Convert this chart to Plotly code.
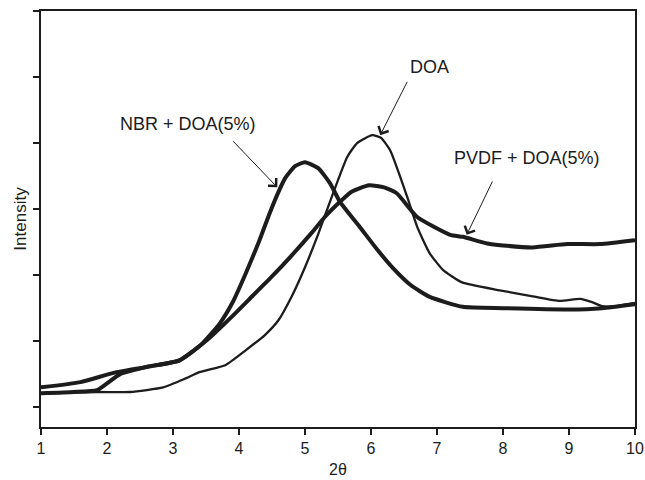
import plotly.graph_objects as go

# Data (intensity in arbitrary units)
nbr_x = [1.0, 1.6, 2.1, 2.6, 3.1, 3.45, 3.71, 3.91, 4.1, 4.3, 4.45, 4.58, 4.7, 4.85, 5.0, 5.2, 5.38,
         5.53, 5.83, 6.1, 6.33, 6.6, 6.89, 7.39, 8.0, 9.0, 9.5, 10.0]
nbr_y = [0.30, 0.38, 0.52, 0.61, 0.71, 0.97, 1.27, 1.60, 2.02, 2.50, 2.90, 3.22, 3.47, 3.65, 3.71, 3.62, 3.39,
         3.11, 2.73, 2.38, 2.11, 1.85, 1.67, 1.52, 1.50, 1.48, 1.50, 1.56]

pvdf_x = [1.0, 1.5, 1.85, 2.0, 2.2, 2.6, 3.1, 3.52, 3.9, 4.2, 4.5, 4.8, 5.1, 5.3, 5.53, 5.7,
          5.97, 6.2, 6.39, 6.7, 7.2, 7.39, 7.76, 8.0, 8.45, 8.97, 9.47, 10.0]
pvdf_y = [0.21, 0.23, 0.26, 0.36, 0.50, 0.61, 0.71, 1.02, 1.38, 1.68, 1.98, 2.30, 2.64, 2.88, 3.11, 3.26,
          3.36, 3.33, 3.24, 2.88, 2.61, 2.58, 2.48, 2.45, 2.42, 2.47, 2.47, 2.53]

doa_x = [1.0, 1.85, 2.35, 2.85, 3.2, 3.4, 3.8, 4.1, 4.4, 4.6, 4.8, 5.0, 5.2, 5.33, 5.64, 5.79,
         6.02, 6.15, 6.29, 6.55, 6.7, 6.89, 7.09, 7.38, 7.95, 8.45, 8.86, 9.17, 9.35, 9.5, 9.7, 10.0]
doa_y = [0.21, 0.23, 0.23, 0.30, 0.44, 0.53, 0.64, 0.86, 1.10, 1.32, 1.68, 2.12, 2.62, 2.98, 3.79, 4.00,
         4.12, 4.08, 3.89, 3.18, 2.73, 2.33, 2.08, 1.89, 1.77, 1.68, 1.61, 1.64, 1.59, 1.53, 1.53, 1.58]

x_ticks = [1, 2, 3, 4, 5, 6, 7, 8, 9, 10]
y_ticks = [0, 1, 2, 3, 4, 5, 6]

ink = "#1c1c1c"
font = "Liberation Sans, Arial, sans-serif"

fig = go.Figure()
fig.add_trace(go.Scatter(x=nbr_x, y=nbr_y, mode="lines", name="NBR + DOA(5%)",
                         line=dict(color=ink, width=4, shape="spline", smoothing=0.5)))
fig.add_trace(go.Scatter(x=pvdf_x, y=pvdf_y, mode="lines", name="PVDF + DOA(5%)",
                         line=dict(color=ink, width=4, shape="spline", smoothing=0.5)))
fig.add_trace(go.Scatter(x=doa_x, y=doa_y, mode="lines", name="DOA",
                         line=dict(color=ink, width=2.3, shape="spline", smoothing=0.5)))

labels = [
    # text, text x, text y, arrow tail x, y, arrow head x, y
    ("NBR + DOA(5%)", 3.23, 4.29, 3.89, 4.05, 4.58, 3.33),
    ("DOA", 6.88, 5.15, 6.56, 4.95, 6.14, 4.12),
    ("PVDF + DOA(5%)", 8.36, 3.77, 7.85, 3.44, 7.45, 2.61),
]
for text, tx, ty, ax, ay, hx, hy in labels:
    fig.add_annotation(x=tx, y=ty, text=text, showarrow=False,
                       font=dict(family=font, size=18, color=ink))
    fig.add_annotation(x=hx, y=hy, ax=ax, ay=ay, axref="x", ayref="y", text="",
                       showarrow=True, arrowhead=4, arrowsize=2.2, arrowwidth=1,
                       arrowcolor=ink)

fig.update_layout(
    width=645, height=480,
    margin=dict(l=41, r=10, t=11, b=53),
    paper_bgcolor="white", plot_bgcolor="white",
    showlegend=False,
    font=dict(family=font, color=ink, size=16),
)
fig.update_xaxes(range=[1, 10], tickvals=x_ticks, ticktext=[str(t) for t in x_ticks],
                 ticks="outside", ticklen=6, tickwidth=1.5, tickcolor=ink,
                 showline=True, linecolor=ink, linewidth=1.5, mirror=True,
                 showgrid=False, zeroline=False, automargin=False,
                 tickfont=dict(size=16), title=dict(text="2θ", font=dict(size=16), standoff=8))
fig.update_yaxes(range=[-0.3, 6.0], tickvals=y_ticks, showticklabels=False,
                 ticks="outside", ticklen=6, tickwidth=1.5, tickcolor=ink,
                 showline=True, linecolor=ink, linewidth=1.5, mirror=True,
                 showgrid=False, zeroline=False, automargin=False,
                 title=dict(text="Intensity", font=dict(size=17), standoff=2))

fig.write_html("out.html")
